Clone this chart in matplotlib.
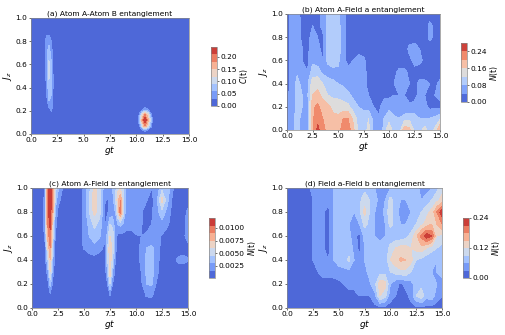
import matplotlib
matplotlib.use("Agg")
import matplotlib.pyplot as plt
import numpy as np

W, H = 505, 335

# panel (a): C(t)
a_gt = [0, 1.2, 1.45, 1.7, 1.95, 2.2, 2.6, 10, 10.2, 10.5, 10.8, 11.1, 11.4, 11.6, 15]
a_jz = [0, .03, .07, .12, .17, .21, .3, .4, .5, .6, .7, .8, .85, .9, 1]
a_z = [
    [0, 0, 0, 0, 0, 0, 0, 0, 0, 0, 0, 0, 0, 0, 0],
    [0, 0, 0, 0, 0, 0, 0, 0, 0, .01, .04, .02, 0, 0, 0],
    [0, 0, 0, 0, 0, 0, 0, 0, .01, .09, .18, .12, .04, 0, 0],
    [0, 0, 0, 0, 0, 0, 0, 0, .03, .15, .24, .17, .07, 0, 0],
    [0, 0, 0, .005, .02, 0, 0, 0, .01, .1, .18, .12, .04, 0, 0],
    [0, 0, 0, .02, .035, 0, 0, 0, 0, .02, .04, .03, 0, 0, 0],
    [0, 0, .015, .065, .05, 0, 0, 0, 0, 0, 0, 0, 0, 0, 0],
    [0, 0, .025, .08, .07, 0, 0, 0, 0, 0, 0, 0, 0, 0, 0],
    [0, 0, .04, .095, .07, 0, 0, 0, 0, 0, 0, 0, 0, 0, 0],
    [0, 0, .045, .095, .06, 0, 0, 0, 0, 0, 0, 0, 0, 0, 0],
    [0, 0, .05, .08, .04, 0, 0, 0, 0, 0, 0, 0, 0, 0, 0],
    [0, 0, .04, .05, .03, 0, 0, 0, 0, 0, 0, 0, 0, 0, 0],
    [0, 0, .03, .03, 0, 0, 0, 0, 0, 0, 0, 0, 0, 0, 0],
    [0, 0, 0, 0, 0, 0, 0, 0, 0, 0, 0, 0, 0, 0, 0],
    [0, 0, 0, 0, 0, 0, 0, 0, 0, 0, 0, 0, 0, 0, 0],
]

# panels (b) and (d) share one grid
bd_gt = [0, .5, 1, 1.5, 2, 2.5, 3, 3.5, 4, 4.5, 5, 5.5, 6, 6.5, 7, 7.5, 8, 8.5, 9, 9.5,
         10, 10.5, 11, 11.5, 12, 12.5, 13, 13.5, 14, 14.5, 15]
jz = [0, .1, .2, .3, .4, .5, .6, .7, .8, .9, 1]

# values in units of 0.01
b_z = [
    [3, 7, 9, 7, 6, 19, 25, 22, 18, 17, 18, 22, 22, 17, 11, 10, 13, 7, 4.5, 9, 16, 9, 9, 19, 17, 11, 10, 14, 9, 13, 20],
    [3, 7, 9, 7, 6, 19, 23, 20, 18, 17, 17, 20, 20, 15, 10, 10, 12, 6, 4.5, 8, 10, 9, 8, 10, 11, 10, 8, 8, 8, 9, 11],
    [3, 6, 9, 8, 6, 19, 21, 18, 17, 15, 14, 13, 13, 10, 8, 7, 6, 4, 3, 6, 7, 5, 5, 4.5, 4.5, 5, 5, 5, 3, 3, 3],
    [3, 6, 9, 8, 7, 16, 17, 15, 12, 11, 11, 11, 9, 7, 5, 5, 4, 3, 3, 3, 3, 4, 4, 4, 3, 3, 5, 4, 4, 4, 5],
    [2, 6, 9, 7, 7, 14, 15, 12, 10, 9, 8, 7, 6, 5, 6, 5, 3, 3, 3, 2, 3, 4, 6, 6, 4, 3, 5, 5, 4, 3, 5],
    [2, 6, 7.5, 5, 4, 10, 10, 7, 6, 6, 7, 6, 5, 5, 6, 5, 3, 2, 2, 2, 2, 3, 5, 5, 3, 3, 2, 2, 2, 2, 2],
    [2, 6, 7, 4, 3, 7, 6, 4, 9, 11, 9, 5, 3, 4, 6, 5, 2, 2, 2, 2, 2, 2, 2, 2, 3, 5, 5, 3, 2, 2, 2],
    [2, 6, 6, 4, 3, 6, 5, 3, 9, 11, 11, 5, 3, 2, 2, 2, 2, 2, 2, 2, 2, 2, 2, 2, 5, 5, 4, 3, 2, 2, 2],
    [2, 6, 6, 3, 3, 5, 4, 3, 9, 11, 10, 5, 3, 2, 2, 2, 2, 2, 2, 2, 2, 2, 2, 2, 2, 3, 2, 2, 5, 3, 2],
    [2, 6, 6, 3, 3, 4, 3, 5, 9, 11, 10, 5, 3, 2, 2, 2, 2, 2, 2, 2, 2, 2, 2, 2, 2, 2, 2, 2, 5, 3, 2],
    [2, 6, 5, 3, 3, 3, 3, 5, 9, 10, 9, 5, 3, 2, 2, 2, 2, 2, 2, 2, 2, 2, 2, 2, 2, 2, 2, 2, 2, 2, 2],
]

d_z = [
    [1, 1, 1, 1, 1, 1, 1, 1, 1, 1, 1, 1, 1, 1, 1, 1, 1, 2, 2, 2, 2, 2, 2, 2, 2, 2, 2, 2, 2, 2, 2],
    [1, 1, 1, 1, 1, 1, 1, 1, 1, 1, 2, 2, 2, 2, 3, 3, 3, 5, 12, 10, 4, 3, 3, 2, 4, 9, 11, 7, 8, 4, 3],
    [1, 1, 1, 1, 1, 2, 2, 2, 2, 2, 2, 3, 4, 4, 4, 4.5, 5.5, 8, 14, 13, 6, 4, 2.5, 4, 5, 7, 8, 7, 7, 6, 5],
    [1, 1, 1, 1, 2, 3, 3, 4, 4, 4, 5, 5, 5, 5, 5, 5, 7, 8, 8, 8, 9, 10, 11, 11, 9, 6, 6, 6, 6, 6, 7],
    [1, 1, 1, 1, 2, 3, 4, 4, 3, 6, 7, 8, 9.5, 6, 4, 6, 7, 7, 7, 7, 12, 14, 15.5, 15, 13, 9, 8, 7, 7, 6, 7],
    [1, 1, 1, 1, 2, 3, 4, 3.2, 2, 6, 7, 8, 8, 5, 2, 6, 7, 7, 7, 7, 10, 12, 13, 13, 12, 13, 14, 12, 10, 9, 8],
    [1, 1, 1, 1, 2, 3, 4, 3.2, 2, 6, 7, 8, 7, 4, 2, 7, 7, 6, 5, 6, 7, 7, 7, 8, 10, 14, 19, 23, 21, 12, 11],
    [1, 1, 1, 1, 2, 3, 4, 3.2, 2, 6, 7, 8, 6, 5, 6, 10, 8, 6, 4, 6, 10, 8, 6, 6, 7, 9, 11, 13, 15, 15, 18],
    [1, 1, 1, 1, 2, 3, 4, 3.2, 2, 6, 7, 8, 7, 6, 8, 13, 9, 6, 4, 7, 11, 7, 5, 5, 6, 7, 9, 11, 13, 18, 23],
    [1, 1, 1, 1, 2, 3, 5, 5, 4, 6, 7, 8, 7, 7, 8, 11, 9, 7, 5, 6, 10, 8, 6, 6, 7, 7, 6, 7, 9, 11, 13],
    [1, 1, 1, 1, 2, 4, 5, 5, 5, 6, 7, 8, 7, 7, 7, 8, 7, 6, 5, 5, 6, 7, 9, 9, 8, 7, 5, 5, 6, 8, 11],
]

# panel (c), values in units of 0.001
c_gt = [0, 1, 1.25, 1.5, 1.75, 2, 2.25, 2.5, 3, 4, 5, 5.5, 6, 6.5, 7, 7.25, 7.5, 7.75, 8, 8.25, 8.5, 8.75,
        9, 9.5, 10, 10.5, 11, 11.5, 12, 12.5, 13, 13.5, 14, 14.5, 15]
c_z = [
    [0, 0, 0, 0, 0, 0, 0, 0, 0, 0, 0, 0, 0, 0, 0, 0, 0, 0, 0, 0, 0, 0, 0, 0, 0, 0, 0, 0, 0, 0, 0, 0, 0, 0, 0],
    [0, 0, 0, .2, 1, .2, 0, 0, 0, 0, 0, 0, 0, 0, .1, .4, 1.4, .4, .1, 0, 0, 0, 0, 0, 0, .5, 1.6, 1.7, .6, 0, 0, 0, 0, 0, 0],
    [0, .1, .2, .8, 3.5, 1, .2, .2, .2, .2, .2, .2, .2, .2, .2, 1.5, 4.5, 1.5, .4, .2, .2, .2, .2, .2, .2, 1.2, 3, 3.2, 1.2, .2, .2, .2, .2, .2, .2],
    [0, .1, .4, 2, 6, 2, .3, .2, .2, .2, .2, .3, .3, .3, .5, 3, 7, 3, 1, .4, .3, .3, .3, .3, .3, 1.5, 3.2, 3.6, 2, .3, .3, .3, .5, .5, .4],
    [0, .2, .7, 4, 7.5, 3, .5, .3, .3, .3, .6, .7, .8, .6, 1, 4, 7, 4.5, 1.6, .6, .5, .5, .4, .4, .4, 2, 3.2, 3.5, 2.2, .6, .4, .5, 1.8, 2, 1.6],
    [0, .2, 1, 6, 9, 4, .7, .4, .4, .4, 1.6, 2.2, 2.6, 2, 1.2, 4, 7.5, 5.5, 2, .8, .6, .5, .5, .5, .5, 2, 3, 3.2, 2.5, .8, .5, .5, .5, .8, 1],
    [0, .3, 2, 8, 10, 5, 1.2, .5, .5, .5, 1.7, 3, 3.6, 3.2, 1.5, 3.5, 6, 5.5, 2.5, 1, 1, 1, 1, 1, 1.4, 1.5, 1.7, 2.2, 1.8, 1.4, .8, .5, .5, 1, 2.2],
    [0, .4, 3, 9, 11, 6, 2, .8, .5, .5, 1.7, 3.5, 5, 4, 1.2, 2.2, 4.5, 4, 2, 3, 3.5, 3, 2.2, 2, 2.2, 1.6, 1, 1.5, 2.2, 2.5, 1.8, .8, .5, .8, 2.2],
    [0, .5, 3, 10, 11.5, 8, 2.5, 1.2, .7, .5, 1.7, 4.5, 6.5, 5, 1.3, 1.4, 1.8, 2.4, 3, 6, 10, 5.5, 2.8, 2, 2.8, 1.6, 1, 1.2, 2.5, 4, 2.5, 1, .5, .5, 2],
    [0, .5, 2.5, 10, 11.5, 9, 4, 2, .8, .5, 1.7, 4.5, 7, 5, 1.6, 1.4, 1.8, 2.5, 4, 7, 9, 5, 3, 2, 2.2, 1.6, 1.6, 1, 2.5, 6.5, 3.5, 1.2, .5, .5, .5],
    [0, .5, 1.5, 10, 11.5, 9, 5, 3.5, 1.2, .5, 1.6, 4, 6.5, 5, 2, 2.2, 2.5, 3, 4, 5.5, 6, 5, 3, 2, 2.2, 2.5, 2, 1.5, 2, 4, 4, 1.8, .5, .5, .5],
]

a_levels = [0, .03, .06, .09, .12, .15, .18, .21, .24]
b_levels = [0, .04, .08, .12, .16, .2, .24, .28]
c_levels = [0, .0015, .003, .0045, .006, .0075, .009, .0105, .012]
d_levels = [0, .03, .06, .09, .12, .15, .18, .21, .24]

a_ticks = [0, .05, .1, .15, .2]
b_ticks = [0, .08, .16, .24]
c_ticks = [.0025, .005, .0075, .01]
d_ticks = [0, .12, .24]


# box is left, top, right, bottom in pixels
def px_axes(fig, box):
    l, t, r, b = box
    return fig.add_axes([l / W, 1 - b / H, (r - l) / W, (b - t) / H])


def panel(fig, box, cbox, x, y, z, levels, ticks, fmt, title, cname):
    ax = px_axes(fig, box)
    cs = ax.contourf(x, y, z, levels=levels, cmap='coolwarm')
    ax.set_xlim(0, 15)
    ax.set_ylim(0, 1)
    ax.set_xticks([0, 2.5, 5, 7.5, 10, 12.5, 15])
    ax.set_yticks([0, .2, .4, .6, .8, 1])
    ax.tick_params(labelsize=5.3, length=1.5, width=0.4, pad=1)
    ax.set_xlabel('$gt$', fontsize=6.5, labelpad=0.5)
    ax.set_ylabel('$J_z$', fontsize=6.5, labelpad=1)
    ax.set_title(title, fontsize=5.4, pad=1.5)
    for s in ax.spines.values():
        s.set_linewidth(0.5)
        s.set_color('#888888')
    cax = px_axes(fig, cbox)
    cb = fig.colorbar(cs, cax=cax)
    cb.set_ticks(ticks)
    cb.set_ticklabels([fmt % t for t in ticks])
    cb.ax.tick_params(labelsize=5.3, length=1.5, width=0.4, pad=1)
    cb.set_label(cname, fontsize=5.5, labelpad=1)
    cb.outline.set_linewidth(0.5)
    cb.outline.set_edgecolor('#888888')


fig = plt.figure(figsize=(W / 100, H / 100), dpi=100)

panel(fig, (31, 18, 189, 134), (211, 47, 217, 106), a_gt, a_jz, np.array(a_z), a_levels, a_ticks, '%.2f',
      '(a) Atom A-Atom B entanglement', '$C$(t)')
panel(fig, (287, 14, 440, 130), (461, 43, 467, 102), bd_gt, jz, np.array(b_z) / 100, b_levels, b_ticks, '%.2f',
      '(b) Atom A-Field a entanglement', '$N$(t)')
panel(fig, (32, 188, 188, 308), (209, 218, 215, 278), c_gt, jz, np.array(c_z) / 1000, c_levels, c_ticks, '%.4f',
      '(c) Atom A-Field b entanglement', '$N$(t)')
panel(fig, (287, 188, 442, 308), (463, 218, 469, 278), bd_gt, jz, np.array(d_z) / 100, d_levels, d_ticks, '%.2f',
      '(d) Field a-Field b entanglement', '$N$(t)')

fig.savefig('out.png', dpi=100)
